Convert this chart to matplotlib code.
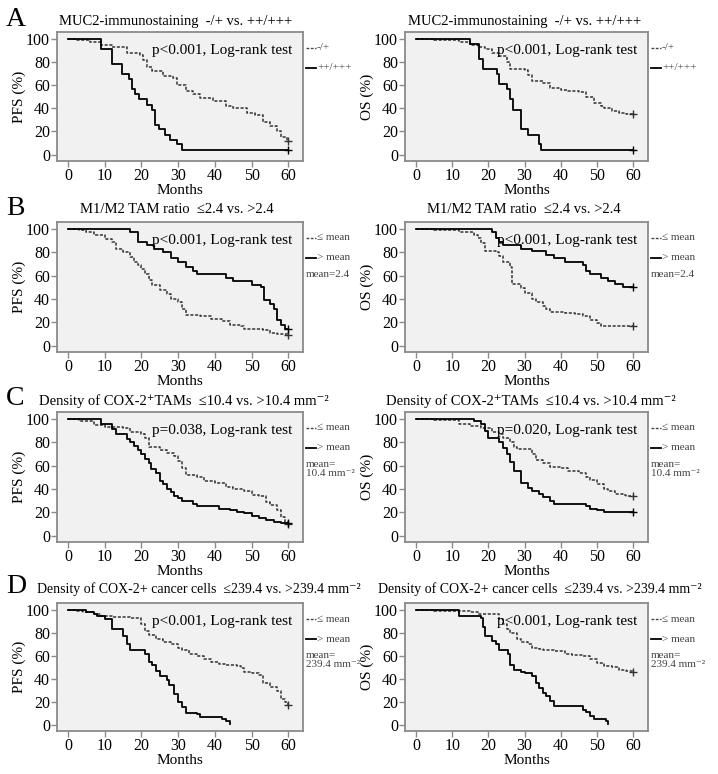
import matplotlib
matplotlib.use("Agg")
import matplotlib.pyplot as plt

plt.rcParams['font.family'] = ['Liberation Serif', 'DejaVu Serif']
plt.rcParams['mathtext.fontset'] = 'stix'

# ---------------- data (time in months, survival in %) ----------------
x_ticks = [0, 10, 20, 30, 40, 50, 60]
y_ticks = [0, 20, 40, 60, 80, 100]

# A: MUC2
a_pfs_low_t = [0, 2, 6, 9, 12, 16, 19.5, 20.5, 21.5, 22.8, 26, 28.7, 29.6, 32, 34, 36, 39.6, 43, 45, 48.7, 51, 53, 55, 57, 58, 59.6, 60]
a_pfs_low_s = [100, 99, 97, 95, 93, 88, 86, 82, 76, 72, 68, 66, 60, 55, 52, 49, 46, 42, 40, 36, 34, 28, 25, 20, 15, 12, 12]
a_pfs_high_t = [0, 9, 12, 14.7, 16.5, 17.4, 18.3, 19.2, 21.5, 22.8, 23.7, 24.7, 26.5, 27.8, 29.6, 31, 60]
a_pfs_high_s = [100, 91, 78, 70, 65, 57, 52, 48, 43, 39, 26, 22, 17, 13, 9, 4, 4]
a_os_low_t = [0, 5, 12, 15, 17, 19, 21, 23, 25, 26, 30, 31, 32, 35, 37, 40, 42, 45, 47, 49, 51, 52, 54, 56, 58, 60]
a_os_low_s = [100, 99, 97, 95, 93, 91, 88, 85, 80, 74, 73, 69, 64, 62, 58, 56, 55, 54, 50, 45, 42, 40, 38, 36, 35, 35]
a_os_high_t = [0, 15, 17.3, 18.6, 22.3, 23, 25, 25.9, 26.8, 28.9, 30.9, 33.9, 34.5, 60]
a_os_high_s = [100, 96, 83, 74, 70, 61, 57, 48, 39, 22, 17, 9, 4, 4]

# B: M1/M2 TAM ratio
b_pfs_low_t = [0, 3, 5, 7, 10, 12, 13, 15, 17, 18, 19, 20, 21, 22, 23, 25, 27, 28, 30, 31, 32, 36, 39, 42, 44, 47, 48, 53, 55, 57, 60]
b_pfs_low_s = [100, 99, 97, 95, 91, 89, 83, 80, 76, 72, 69, 66, 61, 56, 52, 48, 44, 40, 37, 31, 26, 25, 23, 21, 18, 17, 14, 13, 11, 10, 9]
b_pfs_high_t = [0, 17, 19, 21.5, 23.5, 26, 28, 30, 32, 34, 35, 37, 43, 45, 50, 52.5, 53.5, 55, 56, 57, 58, 59, 60]
b_pfs_high_s = [100, 97, 89, 86, 83, 80, 75, 72, 67, 64, 61, 61, 58, 55, 52, 50, 39, 36, 31, 22, 18, 14, 14]
b_os_low_t = [0, 5, 12, 16, 17, 18, 19, 22, 23, 24, 26, 26.5, 29, 30, 32, 33, 35, 36, 37, 41, 44, 46, 48, 50, 51, 60]
b_os_low_s = [100, 99, 97, 95, 92, 88, 81, 80, 77, 72, 67, 53, 49, 45, 40, 37, 34, 31, 29, 28, 27, 25, 22, 19, 17, 17]
b_os_high_t = [0, 21, 22, 23, 24, 29, 32, 36, 38, 41, 46, 47, 48, 51, 53, 55, 57, 60]
b_os_high_s = [100, 97, 92, 89, 86, 83, 81, 78, 75, 72, 69, 64, 61, 58, 55, 53, 50, 50]

# C: COX-2+ TAMs
c_pfs_low_t = [0, 3, 7, 10, 15, 17, 20, 21, 22, 25, 27, 29, 30, 31, 32, 35, 37, 40, 43, 45, 48, 50, 52, 54, 55, 57, 58, 59, 60]
c_pfs_low_s = [100, 98, 95, 93, 92, 89, 87, 84, 76, 73, 71, 68, 64, 58, 52, 50, 47, 45, 42, 40, 38, 35, 34, 29, 26, 22, 16, 12, 10]
c_pfs_high_t = [0, 9, 12, 13, 16, 17, 18, 19, 20, 21, 22, 22.5, 24, 25, 26, 27, 28, 29, 30, 31, 34, 35, 41, 44, 46, 48, 50, 52, 54, 56, 58, 60]
c_pfs_high_s = [100, 96, 91, 87, 83, 80, 77, 73, 70, 66, 62, 57, 54, 47, 44, 40, 37, 34, 32, 30, 27, 25, 23, 22, 20, 19, 17, 15, 13, 12, 11, 11]
c_os_low_t = [0, 5, 12, 15, 18, 21, 23, 24, 26, 27, 28, 32, 33, 35, 37, 40, 42, 45, 47, 48, 50, 52, 53, 55, 57, 58, 60]
c_os_low_s = [100, 99, 96, 94, 92, 89, 87, 84, 80, 76, 74, 70, 65, 62, 59, 58, 55, 54, 50, 48, 44, 40, 38, 36, 35, 34, 34]
c_os_high_t = [0, 16, 18, 19, 20, 23, 24, 25, 26, 27, 29, 31, 32, 34, 35, 37, 38, 47, 48, 50, 52, 60]
c_os_high_s = [100, 98, 96, 90, 84, 80, 75, 70, 63, 55, 45, 41, 38, 36, 33, 30, 27, 25, 23, 22, 20, 20]

# D: COX-2+ cancer cells
d_pfs_low_t = [0, 2, 4, 7, 9, 12, 17, 20, 21, 22, 24, 26, 28, 30, 31, 33, 35, 37, 39, 41, 43, 46, 47, 48, 50, 52, 53, 55, 57, 58, 59, 60]
d_pfs_low_s = [100, 99, 98, 96, 95, 94, 93, 88, 82, 78, 75, 72, 70, 67, 65, 62, 60, 57, 55, 53, 52, 51, 49, 46, 45, 43, 36, 33, 29, 22, 20, 17]
d_pfs_high_t = [0, 5, 7, 8, 10, 12, 15, 16, 17, 21, 22, 23, 24, 25, 27, 27.5, 29, 30, 31, 32, 35, 36, 42, 43, 44]
d_pfs_high_s = [100, 98, 96, 95, 92, 83, 77, 70, 65, 62, 55, 52, 47, 42, 39, 35, 27, 20, 15, 10, 9, 7, 5, 3, 1]
d_os_low_t = [0, 5, 15, 17, 23, 24, 25, 26, 28, 29, 31, 32, 34, 35, 38, 41, 43, 46, 48, 50, 52, 54, 56, 58, 60]
d_os_low_s = [100, 99, 98, 96, 92, 88, 83, 80, 75, 72, 70, 67, 66, 65, 64, 62, 61, 60, 57, 54, 51, 50, 48, 47, 46]
d_os_high_t = [0, 12, 18, 18.5, 19, 21, 22, 23, 25.5, 26, 27, 29, 30, 32, 33, 34, 35, 36, 37, 38, 46, 47, 48, 49, 52.5, 53]
d_os_high_s = [100, 95, 93, 85, 77, 73, 70, 65, 62, 52, 48, 46, 45, 42, 36, 32, 28, 25, 21, 16, 13, 11, 8, 5, 3, 1]

# text
titles_left = ["MUC2-immunostaining  -/+ vs. ++/+++",
               "M1/M2 TAM ratio  \u22642.4 vs. >2.4",
               "Density of COX-2\u207aTAMs  \u226410.4 vs. >10.4 mm\u207b\u00b2",
               "Density of COX-2+ cancer cells  \u2264239.4 vs. >239.4 mm\u207b\u00b2"]
pvals_pfs = ["p<0.001, Log-rank test", "p<0.001, Log-rank test", "p=0.038, Log-rank test", "p<0.001, Log-rank test"]
pvals_os = ["p<0.001, Log-rank test", "p<0.001, Log-rank test", "p=0.020, Log-rank test", "p<0.001, Log-rank test"]
legend_low = ["-/+", "\u2264 mean", "\u2264 mean", "\u2264 mean"]
legend_high = ["++/+++", "> mean", "> mean", "> mean"]
legend_note = [None, "mean=2.4", "mean=\n10.4 mm\u207b\u00b2", "mean=\n239.4 mm\u207b\u00b2"]
letters = ["A", "B", "C", "D"]

pfs_data = [(a_pfs_low_t, a_pfs_low_s, a_pfs_high_t, a_pfs_high_s),
            (b_pfs_low_t, b_pfs_low_s, b_pfs_high_t, b_pfs_high_s),
            (c_pfs_low_t, c_pfs_low_s, c_pfs_high_t, c_pfs_high_s),
            (d_pfs_low_t, d_pfs_low_s, d_pfs_high_t, d_pfs_high_s)]
os_data = [(a_os_low_t, a_os_low_s, a_os_high_t, a_os_high_s),
           (b_os_low_t, b_os_low_s, b_os_high_t, b_os_high_s),
           (c_os_low_t, c_os_low_s, c_os_high_t, c_os_high_s),
           (d_os_low_t, d_os_low_s, d_os_high_t, d_os_high_s)]

# ---------------- layout ----------------
W, H = 718, 774
fig = plt.figure(figsize=(W / 100, H / 100), dpi=100)

def rect(x0, y0, x1, y1):
    return [x0 / W, 1 - y1 / H, (x1 - x0) / W, (y1 - y0) / H]

rows_y = [(32, 161), (222, 352), (412, 542), (603, 731)]
col_x = [(57, 303), (405, 648)]
title_cx = [[176, 525], [177, 524], [184, 531], [199, 540]]
title_y = [25, 213, 405, 593]
title_fs = [10.5, 10.5, 10.5, 10.0]
letter_y = [26, 215, 405, 593]

DASH = (0, (2.0, 1.1))
BG = "#f1f1f1"
SPINE = "#8a8a8a"
LEG = "#444444"


def km(ax, t, s, dashed, censor):
    ls = DASH if dashed else '-'
    col = "#333333" if dashed else "black"
    lw = 1.1 if dashed else 1.3
    ax.plot(t, s, drawstyle='steps-post', color=col, lw=lw, linestyle=ls)
    if censor:
        ax.plot([t[-1]], [s[-1]], marker='+', color=col, ms=6, mew=1.0, linestyle='none')


for r in range(4):
    for c in range(2):
        x0, x1 = col_x[c]
        y0, y1 = rows_y[r]
        ax = fig.add_axes(rect(x0, y0, x1, y1))
        ax.set_facecolor(BG)
        ax.set_xlim(-3, 64)
        ax.set_ylim(-5.5, 106)
        ax.set_xticks(x_ticks)
        ax.set_yticks(y_ticks)
        ax.tick_params(axis='both', labelsize=11.5, length=4, width=1, color=SPINE, pad=1)
        for side in ['top', 'right', 'left', 'bottom']:
            ax.spines[side].set_color(SPINE)
            ax.spines[side].set_linewidth(1.3)
        ax.set_xlabel("Months", fontsize=11, labelpad=0)
        ax.set_ylabel("PFS (%)" if c == 0 else "OS (%)", fontsize=11, labelpad=0)

        lt, ls_, ht, hs = (pfs_data if c == 0 else os_data)[r]
        km(ax, lt, ls_, True, lt[-1] >= 60)
        km(ax, ht, hs, False, ht[-1] >= 60)

        ax.text(0.955, 0.91, (pvals_pfs if c == 0 else pvals_os)[r], transform=ax.transAxes,
                ha='right', va='top', fontsize=11)

        # legend at the right of the axes
        lx0 = x1 + 3
        lx1 = x1 + 13
        for k, (lab, dashed) in enumerate([(legend_low[r], True), (legend_high[r], False)]):
            yy = y0 + 16 + 20 * k
            fy = 1 - yy / H
            fig.add_artist(plt.Line2D([lx0 / W, lx1 / W], [fy, fy], transform=fig.transFigure,
                                      color=LEG if dashed else "black",
                                      linestyle=DASH if dashed else '-', lw=1.0 if dashed else 1.3))
            fig.text((lx1 + 1) / W, fy, lab, ha='left', va='center', fontsize=8, color=LEG)
        if legend_note[r] is not None:
            fig.text((x1 + 3) / W, 1 - (y0 + 48) / H, legend_note[r], ha='left', va='top',
                     fontsize=8, color=LEG, linespacing=0.95)

        fig.text(title_cx[r][c] / W, 1 - title_y[r] / H, titles_left[r], ha='center', va='baseline',
                 fontsize=title_fs[r])
    fig.text(6 / W, 1 - letter_y[r] / H, letters[r], ha='left', va='baseline', fontsize=20)

fig.savefig("out.png", dpi=100, facecolor="white")
